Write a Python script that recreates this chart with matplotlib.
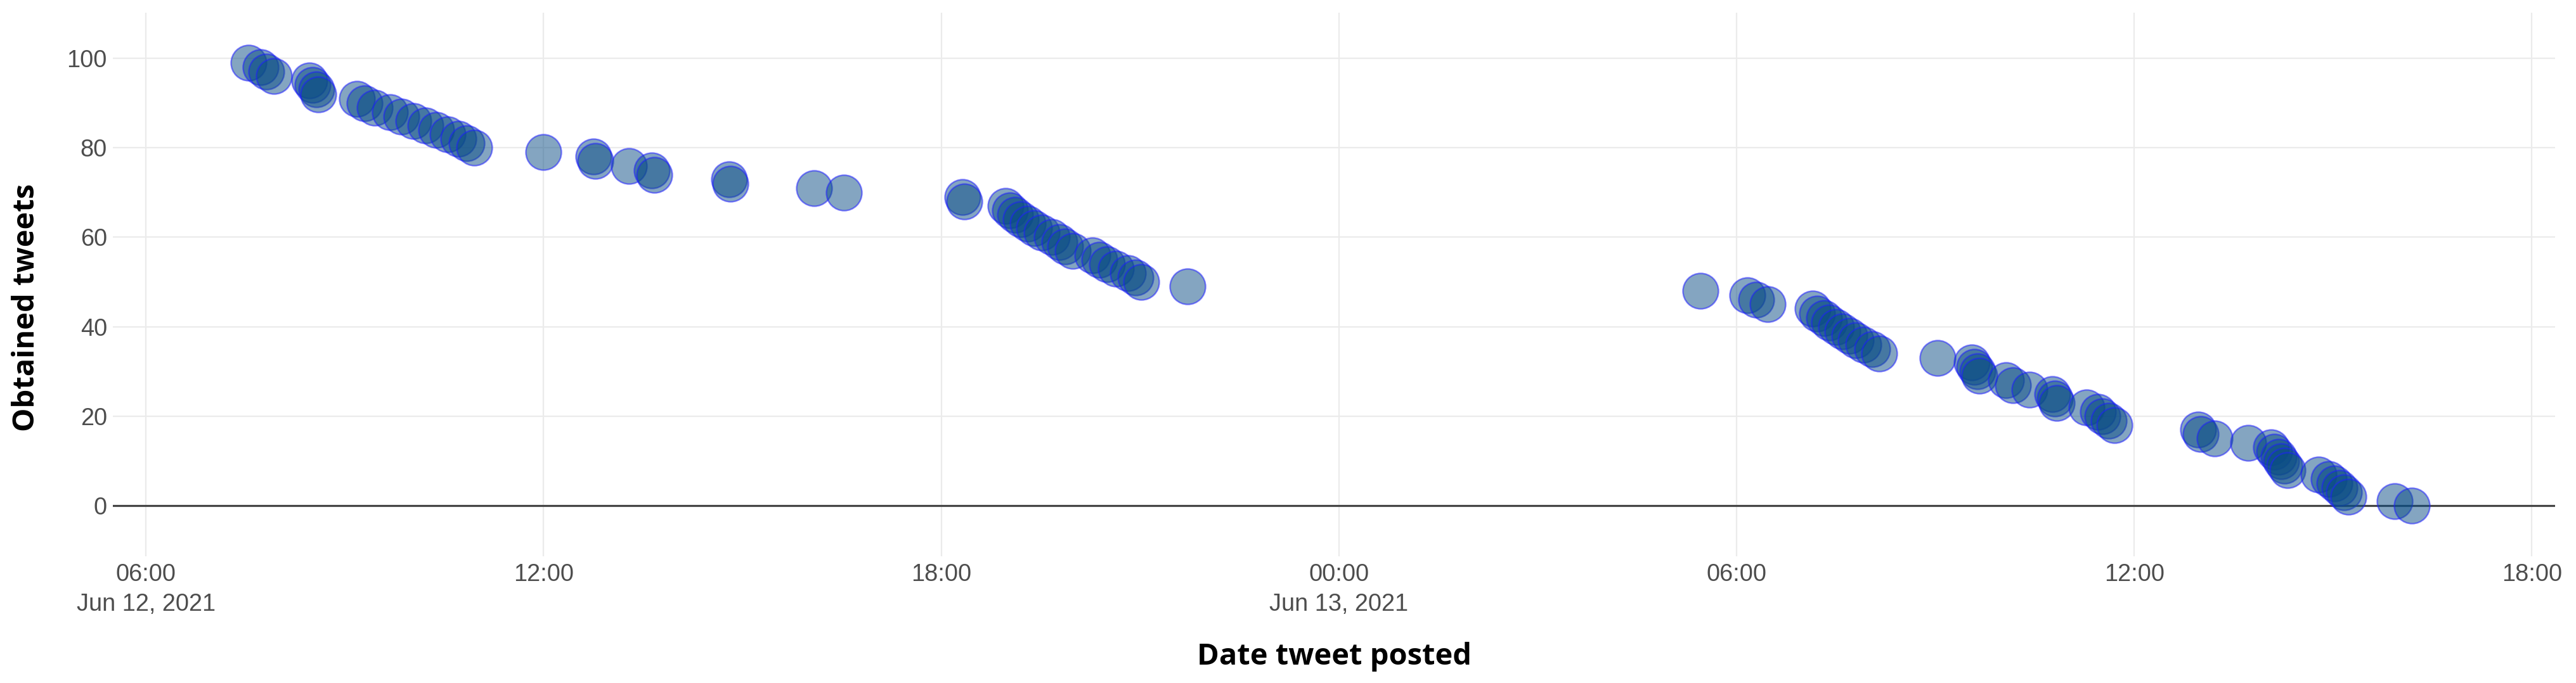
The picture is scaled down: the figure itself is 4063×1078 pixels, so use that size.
import matplotlib
matplotlib.use("Agg")
import matplotlib.pyplot as plt
import matplotlib.dates as mdates
import pandas as pd

# ---- data ----
posted = [
    "2021-06-12 07:33", "2021-06-12 07:44", "2021-06-12 07:49", "2021-06-12 07:56",
    "2021-06-12 08:28", "2021-06-12 08:31", "2021-06-12 08:34", "2021-06-12 08:36",
    "2021-06-12 09:11", "2021-06-12 09:18", "2021-06-12 09:27", "2021-06-12 09:41",
    "2021-06-12 09:51", "2021-06-12 10:02", "2021-06-12 10:13", "2021-06-12 10:23",
    "2021-06-12 10:33", "2021-06-12 10:43", "2021-06-12 10:50", "2021-06-12 10:57",
    "2021-06-12 12:00", "2021-06-12 12:45", "2021-06-12 12:47", "2021-06-12 13:17",
    "2021-06-12 13:38", "2021-06-12 13:40", "2021-06-12 14:48", "2021-06-12 14:49",
    "2021-06-12 16:05", "2021-06-12 16:32", "2021-06-12 18:19", "2021-06-12 18:21",
    "2021-06-12 18:58", "2021-06-12 19:02", "2021-06-12 19:07", "2021-06-12 19:12",
    "2021-06-12 19:18", "2021-06-12 19:24", "2021-06-12 19:31", "2021-06-12 19:40",
    "2021-06-12 19:47", "2021-06-12 19:52", "2021-06-12 19:59", "2021-06-12 20:17",
    "2021-06-12 20:23", "2021-06-12 20:30", "2021-06-12 20:38", "2021-06-12 20:49",
    "2021-06-12 20:56", "2021-06-12 21:01", "2021-06-12 21:43",
    "2021-06-13 05:27", "2021-06-13 06:10", "2021-06-13 06:18", "2021-06-13 06:28",
    "2021-06-13 07:09", "2021-06-13 07:13", "2021-06-13 07:19", "2021-06-13 07:24",
    "2021-06-13 07:30", "2021-06-13 07:36", "2021-06-13 07:42", "2021-06-13 07:48",
    "2021-06-13 07:55", "2021-06-13 08:03", "2021-06-13 08:09", "2021-06-13 09:02",
    "2021-06-13 09:33", "2021-06-13 09:35", "2021-06-13 09:38", "2021-06-13 09:40",
    "2021-06-13 10:04", "2021-06-13 10:10", "2021-06-13 10:25", "2021-06-13 10:46",
    "2021-06-13 10:48", "2021-06-13 10:50", "2021-06-13 11:17", "2021-06-13 11:27",
    "2021-06-13 11:31", "2021-06-13 11:37", "2021-06-13 11:42", "2021-06-13 12:58",
    "2021-06-13 13:00", "2021-06-13 13:13", "2021-06-13 13:43", "2021-06-13 14:04",
    "2021-06-13 14:07", "2021-06-13 14:11", "2021-06-13 14:13", "2021-06-13 14:16",
    "2021-06-13 14:19", "2021-06-13 14:47", "2021-06-13 14:56", "2021-06-13 15:01",
    "2021-06-13 15:06", "2021-06-13 15:10", "2021-06-13 15:14", "2021-06-13 15:56",
    "2021-06-13 16:11",
]
obtained = [
    99, 98, 97, 96, 95, 94, 93, 92, 91, 90, 89, 88, 87, 86, 85, 84, 83, 82, 81, 80,
    79, 78, 77, 76, 75, 74, 73, 72, 71, 70, 69, 68, 67, 66, 65, 64, 63, 62, 61, 60,
    59, 58, 57, 56, 55, 54, 53, 52, 51, 50, 49, 48, 47, 46, 45, 44, 43, 42, 41, 40,
    39, 38, 37, 36, 35, 34, 33, 32, 31, 30, 29, 28, 27, 26, 25, 24, 23, 22, 21, 20,
    19, 18, 17, 16, 15, 14, 13, 12, 11, 10, 9, 8, 7, 6, 5, 4, 3, 2, 1, 0,
]
x_tick_times = ["2021-06-12 06:00", "2021-06-12 12:00", "2021-06-12 18:00",
                "2021-06-13 00:00", "2021-06-13 06:00", "2021-06-13 12:00",
                "2021-06-13 18:00"]
x_tick_labels = ["06:00\nJun 12, 2021", "12:00", "18:00", "00:00\nJun 13, 2021",
                 "06:00", "12:00", "18:00"]
y_ticks = [0, 20, 40, 60, 80, 100]
x_title = "Date tweet posted"
y_title = "Obtained tweets"

# ---- figure ----
W, H, DPI = 4063, 1078, 100
PX = 72.0 / DPI  # points per pixel
fig = plt.figure(figsize=(W / DPI, H / DPI), dpi=DPI, facecolor="white")
L, R, T, B = 178, 4030, 20, 878
ax = fig.add_axes([L / W, 1 - B / H, (R - L) / W, (B - T) / H])

xt = pd.to_datetime(posted)
ax.scatter(xt, obtained, s=(56 * PX) ** 2,
           facecolors=[(0.04, 0.30, 0.52, 0.5)],
           edgecolors=[(0.12, 0.12, 1.0, 0.55)],
           linewidths=2.4 * PX, zorder=3)

ax.set_xlim(pd.Timestamp("2021-06-12 05:30"), pd.Timestamp("2021-06-13 18:21"))
ax.set_ylim(-11.3, 110.2)

ax.set_xticks(pd.to_datetime(x_tick_times))
ax.set_xticklabels(x_tick_labels, fontsize=38 * PX, color="#4d4d4d",
                   family=["Liberation Sans", "DejaVu Sans"], linespacing=1.38)
ax.set_yticks(y_ticks)
ax.set_yticklabels([str(v) for v in y_ticks], fontsize=38 * PX, color="#4d4d4d",
                   family=["Liberation Sans", "DejaVu Sans"])
ax.tick_params(axis="both", length=0)
ax.tick_params(axis="x", pad=11 * PX)
ax.tick_params(axis="y", pad=9 * PX)

ax.grid(True, color="#ebebeb", linewidth=2.2 * PX, zorder=0)
ax.set_axisbelow(True)
for s in ax.spines.values():
    s.set_visible(False)
ax.axhline(0, color="#444444", linewidth=3.2 * PX, zorder=2)

fig.text(2104 / W, 1 - 1036 / H, x_title, ha="center", va="center",
         fontsize=47 * PX, fontweight="bold", family=["Open Sans", "DejaVu Sans"],
         color="black")
fig.text(42 / W, 1 - 485 / H, y_title, ha="center", va="center", rotation=90,
         fontsize=47 * PX, fontweight="bold", family=["Open Sans", "DejaVu Sans"],
         color="black")

fig.savefig("out.png", dpi=DPI, facecolor="white")
